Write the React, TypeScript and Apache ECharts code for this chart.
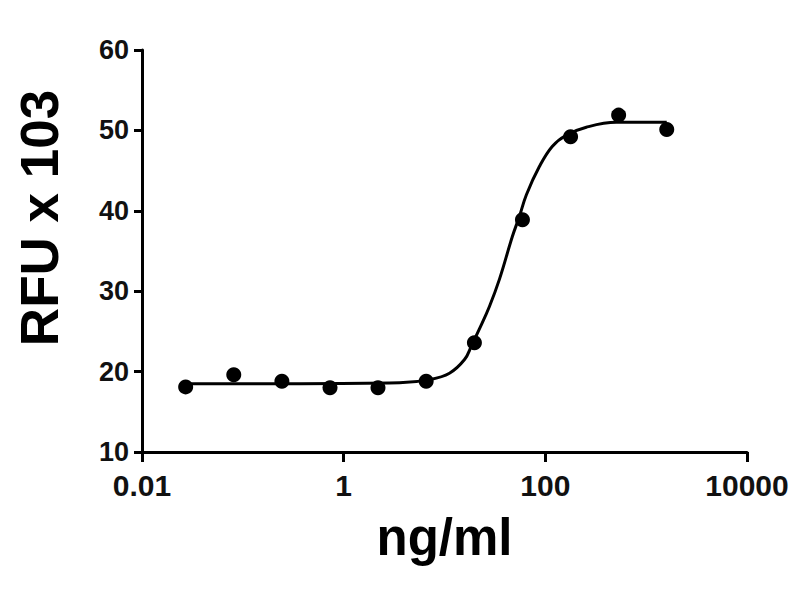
import React, { useEffect, useRef } from "react";
import * as echarts from "echarts";

// Measured points (ng/ml, RFU x 10^3), 3-fold dilution series
const doseX = [0.0271, 0.0813, 0.244, 0.732, 2.19, 6.58, 19.8, 59.3, 178, 533, 1600];
const rfuY = [18.1, 19.6, 18.8, 18.0, 18.0, 18.8, 23.6, 38.9, 49.2, 51.9, 50.1];

// Fitted curve
const curveX = [0.0271, 0.366, 3.58, 7.1, 11.2, 15.8, 18.5, 22.2, 27.9, 35.1, 47.1, 55.3, 64.9, 87.3, 117, 161, 255, 505, 1600];
const curveY = [18.5, 18.5, 18.6, 19.0, 19.8, 21.5, 23.2, 25.3, 28.1, 31.5, 36.8, 39.3, 42.0, 45.5, 48.0, 49.4, 50.4, 51.0, 51.0];

const xTicks = ["0.01", "1", "100", "10000"];
const yTitle = "RFU x 103";
const xTitle = "ng/ml";

export default function App() {
  const ref = useRef<HTMLDivElement>(null);
  useEffect(() => {
    if (!ref.current) return;
    const chart = echarts.init(ref.current, null, { renderer: "svg" });
    const font = "'Liberation Sans', Arial, sans-serif";
    chart.setOption({
      animation: false,
      backgroundColor: "#ffffff",
      grid: { left: 142, right: 53, top: 50, bottom: 148, containLabel: false },
      xAxis: {
        type: "log",
        logBase: 10,
        min: 0.01,
        max: 10000,
        interval: 2,
        name: xTitle,
        nameLocation: "middle",
        nameGap: 60,
        nameTextStyle: { fontFamily: font, fontWeight: "bold", fontSize: 51, color: "#000" },
        axisLine: { show: true, lineStyle: { color: "#000", width: 3 } },
        axisTick: { show: true, length: 10, lineStyle: { color: "#000", width: 3 } },
        minorTick: { show: false },
        splitLine: { show: false },
        axisLabel: {
          fontFamily: font,
          fontWeight: "bold",
          fontSize: 30,
          color: "#111",
          margin: 18,
          formatter: (v: number) => {
            const e = Math.round(Math.log10(v));
            const s = xTicks.find((t) => Math.round(Math.log10(parseFloat(t))) === e);
            return s ?? "";
          },
        },
      },
      yAxis: {
        type: "value",
        min: 10,
        max: 60,
        interval: 10,
        name: yTitle,
        nameLocation: "middle",
        nameGap: 76,
        nameTextStyle: {
          fontFamily: font,
          fontWeight: "bold",
          fontSize: 53,
          color: "#000",
          padding: [0, 0, 0, 66],
        },
        axisLine: { show: true, lineStyle: { color: "#000", width: 3 } },
        axisTick: { show: true, length: 8, lineStyle: { color: "#000", width: 3 } },
        splitLine: { show: false },
        axisLabel: {
          fontFamily: font,
          fontWeight: "bold",
          fontSize: 27,
          color: "#111",
          margin: 13,
        },
      },
      series: [
        {
          type: "line",
          data: curveX.map((x, i) => [x, curveY[i]]),
          smooth: 0.4,
          showSymbol: false,
          lineStyle: { color: "#000", width: 3 },
          z: 2,
        },
        {
          type: "scatter",
          data: doseX.map((x, i) => [x, rfuY[i]]),
          symbol: "circle",
          symbolSize: 15,
          itemStyle: { color: "#000", opacity: 1 },
          z: 3,
        },
      ],
    });
    return () => chart.dispose();
  }, []);
  return (
    <div
      ref={ref}
      style={{ position: "fixed", left: 0, top: 0, width: 800, height: 600, background: "#fff" }}
    />
  );
}
